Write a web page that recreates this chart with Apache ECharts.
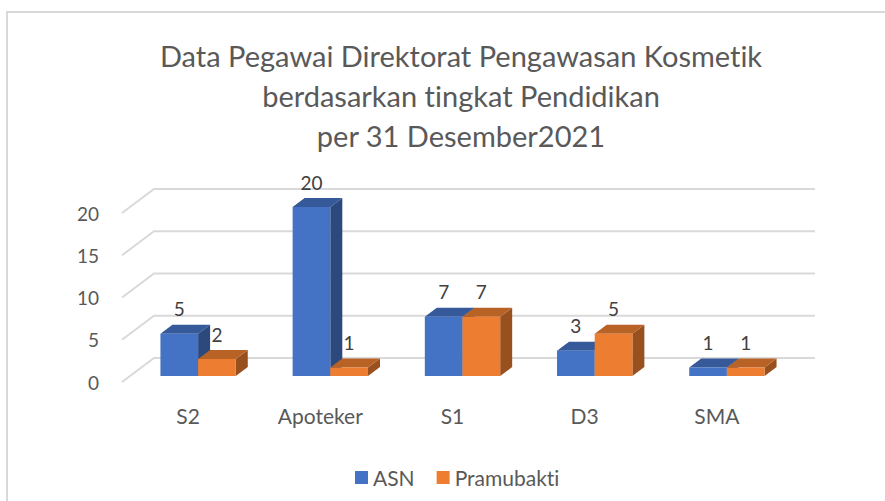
<!DOCTYPE html>
<html><head><meta charset="utf-8">
<script src="https://cdn.jsdelivr.net/npm/echarts@6/dist/echarts.min.js"></script>
<style>html,body{margin:0;padding:0;background:#fff}#c{width:885px;height:501px}#c, #c text{font-variant-ligatures:none;font-feature-settings:"liga" 0,"clig" 0}</style>
</head><body><div id="c"></div>
<script>
const categories = ['S2', 'Apoteker', 'S1', 'D3', 'SMA'];
const asnValues = [5, 20, 7, 3, 1];
const pramubaktiValues = [2, 1, 7, 5, 1];
const yTicks = [0, 5, 10, 15, 20];
const seriesNames = ['ASN', 'Pramubakti'];
const titleLines = ['Data Pegawai Direktorat Pengawasan Kosmetik', 'berdasarkan tingkat Pendidikan', 'per 31 Desember2021'];

const DEPTH_X = 32, DEPTH_Y = -24;
const BAR_OFF_X = 10, BAR_OFF_Y = -6;
const BAR_D_X = 12, BAR_D_Y = -9;
const BAR_W_FRAC = 0.285;
const FONT = 'Lato';
const COLORS = ['#4472C4', '#ED7D31'];

function shade(hex, f) {
  const n = parseInt(hex.slice(1), 16);
  const r = Math.round(((n >> 16) & 255) * f), g = Math.round(((n >> 8) & 255) * f), b = Math.round((n & 255) * f);
  return 'rgb(' + r + ',' + g + ',' + b + ')';
}

function barRenderer(idx) {
  const color = COLORS[idx];
  const topC = shade(color, 0.78), sideC = shade(color, 0.64);
  return function (params, api) {
    const i = api.value(0), v = api.value(1);
    const c = api.coord([i, v]);
    const base = api.coord([i, 0]);
    const band = api.size([1, 0])[0];
    const w = band * BAR_W_FRAC;
    const x0 = c[0] + BAR_OFF_X + (idx === 0 ? -w : 0);
    const x1 = x0 + w;
    const yT = c[1] + BAR_OFF_Y, yB = base[1] + BAR_OFF_Y;
    return {
      type: 'group',
      children: [
        { type: 'polygon', shape: { points: [[x1, yT], [x1 + BAR_D_X, yT + BAR_D_Y], [x1 + BAR_D_X, yB + BAR_D_Y], [x1, yB]] }, style: { fill: sideC } },
        { type: 'polygon', shape: { points: [[x0, yT], [x1, yT], [x1 + BAR_D_X, yT + BAR_D_Y], [x0 + BAR_D_X, yT + BAR_D_Y]] }, style: { fill: topC } },
        { type: 'rect', shape: { x: x0, y: yT, width: w, height: yB - yT }, style: { fill: color } },
        { type: 'text', style: { text: String(v), x: (x0 + x1) / 2, y: yT - 25, align: 'center', verticalAlign: 'middle', fill: '#404040', font: '19px ' + FONT } }
      ]
    };
  };
}

const chart = echarts.init(document.getElementById('c'), null, { renderer: 'svg' });
chart.setOption({
  animation: false,
  backgroundColor: '#fff',
  title: {
    text: titleLines.join('\n'),
    left: 456, top: 30, textAlign: 'center',
    textStyle: { fontFamily: FONT, fontSize: 29, fontWeight: 'normal', color: '#595959', lineHeight: 40, align: 'center' }
  },
  legend: {
    data: seriesNames, top: 462, left: 350, icon: 'rect', itemWidth: 13, itemHeight: 13, itemGap: 22,
    textStyle: { fontFamily: FONT, fontSize: 21, color: '#595959' }
  },
  grid: { left: 122, right: 102, top: 213, bottom: 119 },
  xAxis: {
    type: 'category', data: categories,
    axisLine: { show: false }, axisTick: { show: false },
    axisLabel: { margin: 23, fontFamily: FONT, fontSize: 21, color: '#595959' }
  },
  yAxis: {
    type: 'value', min: 0, max: 20, interval: 5,
    axisLine: { show: false }, axisTick: { show: false }, splitLine: { show: false },
    axisLabel: { margin: 23, fontFamily: FONT, fontSize: 19, color: '#595959' }
  },
  graphic: [
    { type: 'polyline', shape: { points: [[7, 501], [7, 12], [885, 12]] }, style: { stroke: '#D9D9D9', lineWidth: 2, fill: null } }
  ],
  series: [
    {
      type: 'custom', silent: true, z: 1,
      data: yTicks.map(v => [0, v]),
      renderItem: function (params, api) {
        const cs = params.coordSys;
        const y = api.coord([0, api.value(1)])[1];
        return { type: 'polyline', shape: { points: [[cs.x, y], [cs.x + DEPTH_X, y + DEPTH_Y], [cs.x + cs.width + DEPTH_X, y + DEPTH_Y]] }, style: { stroke: '#D9D9D9', lineWidth: 2, fill: null } };
      }
    },
    { name: seriesNames[0], type: 'custom', z: 2, itemStyle: { color: COLORS[0] }, data: asnValues.map((v, i) => [i, v]), renderItem: barRenderer(0) },
    { name: seriesNames[1], type: 'custom', z: 3, itemStyle: { color: COLORS[1] }, data: pramubaktiValues.map((v, i) => [i, v]), renderItem: barRenderer(1) }
  ]
});
</script></body></html>
